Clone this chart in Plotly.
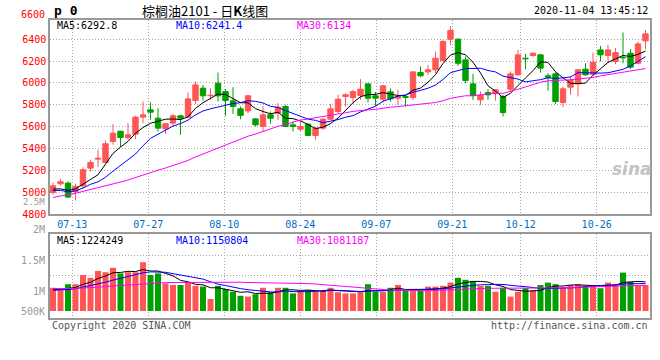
import plotly.graph_objects as go

# ---------------- data ----------------
dates = ["07-08","07-09","07-10","07-13","07-14","07-15","07-16","07-17","07-20","07-21",
         "07-22","07-23","07-24","07-27","07-28","07-29","07-30","07-31","08-03","08-04",
         "08-05","08-06","08-07","08-10","08-11","08-12","08-13","08-14","08-17","08-18",
         "08-19","08-20","08-21","08-24","08-25","08-26","08-27","08-28","08-31","09-01",
         "09-02","09-03","09-04","09-07","09-08","09-09","09-10","09-11","09-14","09-15",
         "09-16","09-17","09-18","09-21","09-22","09-23","09-24","09-25","09-28","09-29",
         "09-30","10-09","10-12","10-13","10-14","10-15","10-16","10-19","10-20","10-21",
         "10-22","10-23","10-26","10-27","10-28","10-29","10-30","11-02","11-03","11-04"]

open_ = [4997,5077,5083,5007,5058,5220,5302,5272,5464,5558,
         5500,5531,5687,5754,5677,5580,5632,5699,5687,5839,
         5952,5882,5998,5921,5836,5763,5744,5671,5601,5708,
         5723,5784,5616,5577,5622,5519,5586,5668,5738,5876,
         5866,5885,5991,5882,5851,5918,5860,5876,5866,6095,
         6101,6120,6205,6400,6400,6211,5991,5845,5912,5906,
         5876,5943,6074,6226,6251,6257,6065,6083,5821,5961,
         5991,6126,6080,6302,6251,6196,6235,6272,6180,6385]
high = [5089,5120,5098,5077,5226,5296,5388,5473,5622,5560,
        5632,5699,5830,5821,5769,5632,5717,5708,5912,6013,
        5982,5952,6095,5943,5961,5784,5891,5677,5790,5738,
        5815,5799,5647,5647,5632,5601,5677,5808,5891,5906,
        5937,6034,5998,5918,5982,5949,5937,5888,6101,6150,
        6165,6287,6394,6520,6410,6241,6083,5921,5943,5940,
        5891,6104,6302,6266,6278,6266,6089,6095,5967,6059,
        6126,6180,6278,6339,6348,6318,6461,6309,6379,6485]
low = [4976,5060,4946,4924,5037,5190,5229,5265,5434,5412,
       5479,5485,5632,5662,5555,5534,5607,5525,5687,5808,
       5839,5845,5830,5699,5717,5668,5723,5601,5555,5626,
       5662,5595,5555,5555,5516,5479,5571,5662,5723,5784,
       5808,5845,5821,5790,5821,5830,5799,5784,5845,6052,
       6074,6089,6196,6348,6156,5998,5845,5799,5845,5839,
       5693,5921,6065,6126,6241,6095,5930,5808,5778,5891,
       5876,6065,6074,6196,6180,6171,6180,6126,6171,6309]
close = [5058,5095,4955,5052,5205,5272,5311,5443,5540,5500,
         5525,5687,5708,5732,5586,5626,5699,5677,5854,5982,
         5882,5888,5882,5839,5784,5702,5882,5616,5708,5677,
         5778,5601,5601,5601,5519,5586,5668,5763,5851,5891,
         5921,5943,5860,5860,5973,5854,5876,5866,6101,6065,
         6120,6226,6379,6480,6180,6022,5885,5888,5891,5937,
         5729,6083,6257,6220,6272,6135,6052,5830,5946,6022,
         6120,6074,6190,6257,6302,6278,6229,6144,6357,6449]
volume = [1080000,1020000,1170000,1170000,1400000,1330000,1500000,1470000,1580000,1440000,
          1470000,1470000,1720000,1400000,1440000,1190000,1150000,1150000,1220000,1130000,
          1110000,800000,1130000,1050000,980000,880000,860000,920000,1080000,970000,
          1080000,1080000,940000,1000000,1020000,1000000,1000000,1080000,970000,940000,
          940000,970000,1170000,980000,980000,1080000,1150000,1000000,1000000,1000000,
          1110000,1110000,1130000,1210000,1330000,1280000,1250000,1130000,1130000,980000,
          1080000,860000,980000,1070000,1020000,1150000,1210000,1170000,1070000,1150000,
          1170000,1130000,1150000,1070000,1210000,1170000,1460000,1230000,1130000,1150000]

# closes / volumes before the visible window (only feed the moving averages)
prior_close = [4620,4650,4680,4700,4850,4880,4900,4920,4950,4960,
               4980,5000,5020,5010,5040,5030,5050,5060,5040,5060,
               5080,5100,4960,4940,4930,5085,5025,4982,4990]
prior_volume = [1100000,1050000,1120000,1080000,1150000,1020000,1090000,1110000,1060000,1130000,
                1040000,1100000,1070000,1120000,1050000,1080000,1100000,1030000,1090000,1060000,
                980000,1020000,970000,1010000,990000,1050000,1020000,1060000,1000000]

date_ticks = ["07-13","07-27","08-10","08-24","09-07","09-21","10-12","10-26"]
price_ticks = [4800,5000,5200,5400,5600,5800,6000,6200,6400]
vol_tick_labels = ["2M","1.5M","1M","500K"]

price_ma_labels = ["MA5:6292.8","MA10:6241.4","MA30:6134"]
vol_ma_labels = ["MA5:1224249","MA10:1150804","MA30:1081187"]

# ---------------- helpers ----------------
UP = "#FF5555"
DOWN = "#00A000"
MA_COLORS = ["#000000", "#0000FF", "#FF00FF"]
MONO = "DejaVu Sans Mono"
W, H = 660, 360


def ma(series, prior, n):
    full = prior + series
    out = []
    for k in range(len(series)):
        j = len(prior) + k
        out.append(sum(full[j - n + 1:j + 1]) / n)
    return out


def px(x):
    return x / W


def py(y):
    return 1 - y / H


idx = list(range(len(dates)))
colors = [UP if c >= o else DOWN for o, c in zip(open_, close)]

fig = go.Figure()

# wicks
for col in (UP, DOWN):
    xs, ys = [], []
    for i in idx:
        if colors[i] == col:
            xs += [i, i, None]
            ys += [low[i], high[i], None]
    fig.add_trace(go.Scatter(x=xs, y=ys, mode="lines", line=dict(color=col, width=1),
                             hoverinfo="skip", showlegend=False, xaxis="x", yaxis="y"))

# bodies
fig.add_trace(go.Bar(x=idx, y=[abs(c - o) for o, c in zip(open_, close)],
                     base=[min(o, c) for o, c in zip(open_, close)], width=0.72,
                     marker=dict(color=colors, line=dict(color=colors, width=1)),
                     hoverinfo="skip", showlegend=False, xaxis="x", yaxis="y"))

# price moving averages
for n, col in zip((5, 10, 30), MA_COLORS):
    fig.add_trace(go.Scatter(x=idx, y=ma(close, prior_close, n), mode="lines",
                             line=dict(color=col, width=1), hoverinfo="skip",
                             showlegend=False, xaxis="x", yaxis="y"))

# volume bars (drawn up from the 500K floor, as on the source chart)
VOL_FLOOR = 500000
fig.add_trace(go.Bar(x=idx, y=[v - VOL_FLOOR for v in volume], base=VOL_FLOOR, width=0.8,
                     marker=dict(color=colors, line=dict(width=0)),
                     hoverinfo="skip", showlegend=False, xaxis="x2", yaxis="y2"))

for n, col in zip((5, 10, 30), MA_COLORS):
    fig.add_trace(go.Scatter(x=idx, y=ma(volume, prior_volume, n), mode="lines",
                             line=dict(color=col, width=1), hoverinfo="skip",
                             showlegend=False, xaxis="x2", yaxis="y2"))

# grid positions of the date ticks (the source spaces its date grid slightly wider than bars)
GRID_STEP = 7.6 / 7.5
tick_pos = [dates.index(d) * GRID_STEP - 0.47 for d in date_ticks]

GRID = dict(showgrid=True, gridcolor="#A8A8A8", gridwidth=1, griddash="1px,2px")
BORDER = dict(showline=True, mirror=True, linecolor="#999999", linewidth=1.5,
              zeroline=False, ticks="", automargin=False)

fig.update_layout(
    width=W, height=H, template="none",
    margin=dict(l=0, r=0, t=0, b=0),
    paper_bgcolor="white", plot_bgcolor="white",
    barmode="overlay", showlegend=False,
    xaxis=dict(domain=[px(50), px(650)], range=[-0.4, 79.6], anchor="y",
               tickmode="array", tickvals=tick_pos, ticktext=date_ticks,
               tickfont=dict(family=MONO, size=10, color="#0070C0"), **GRID, **BORDER),
    yaxis=dict(domain=[py(214), py(20)], range=[4800, 6576], anchor="x",
               tickmode="array", tickvals=price_ticks, ticktext=[str(t) for t in price_ticks],
               tickfont=dict(family=MONO, size=10, color="#FF0000"), **GRID, **BORDER),
    xaxis2=dict(domain=[px(50), px(650)], range=[-0.4, 79.6], anchor="y2",
                tickmode="array", tickvals=tick_pos, showticklabels=False, **GRID, **BORDER),
    yaxis2=dict(domain=[py(318), py(234)], range=[325000, 2425000], anchor="x2",
                tickmode="array", tickvals=[1400000, 1900000], showticklabels=False,
                **GRID, **BORDER),
)

ann = []


def text(x, y, s, color="#000000", size=10, xanchor="left", family=MONO, **kw):
    ann.append(dict(x=px(x), y=py(y), xref="paper", yref="paper", text=s, showarrow=False,
                    xanchor=xanchor, yanchor="middle",
                    font=dict(family=family, size=size, color=color), **kw))


# header
text(52, 10, "<b>p 0</b>", size=13)
text(140, 10, "棕榈油2101 - 日<b>K</b>线图", size=13, family="Noto Sans CJK SC")
text(650, 10, "2020-11-04 13:45:12", xanchor="right")
text(47, 15, "6600", color="#FF0000", xanchor="right")
text(47, 202, "2.5M", color="#999999", size=9, xanchor="right")

# MA legends
for lab, col, x in zip(price_ma_labels, MA_COLORS, (55, 174, 295)):
    text(x, 26, lab, color=col)
for lab, col, x in zip(vol_ma_labels, MA_COLORS, (55, 174, 295)):
    text(x, 240, lab, color=col)

# volume axis labels (placed where the source prints them)
for lab, y in zip(vol_tick_labels, (230, 260, 291, 311)):
    text(47, y, lab, color="#999999", xanchor="right")

# footer
text(50, 325, "Copyright 2020 SINA.COM", color="#555555")
text(650, 325, "http://finance.sina.com.cn", color="#555555", xanchor="right")

# watermark
text(632, 169, "<b><i>sina</i></b>", color="#C4C4C4", size=17, xanchor="center",
     family="DejaVu Sans")

fig.update_layout(annotations=ann)
fig.write_html("out.html", config={"displayModeBar": False},
               post_script="document.body.style.margin='0';")
